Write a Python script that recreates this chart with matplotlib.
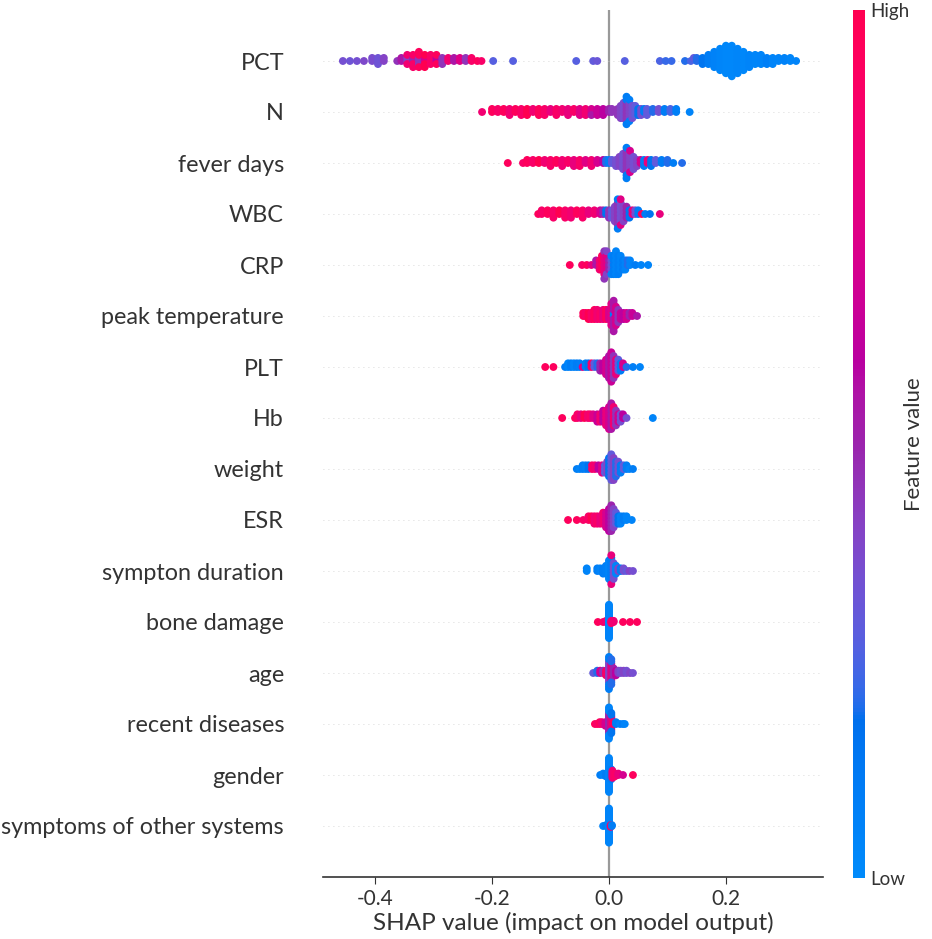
import numpy as np
import matplotlib
matplotlib.use("Agg")
import matplotlib.pyplot as plt
from matplotlib.colors import LinearSegmentedColormap
from matplotlib.cm import ScalarMappable

plt.rcParams["font.family"] = ["Lato", "DejaVu Sans"]
plt.rcParams["axes.unicode_minus"] = False

# features, top to bottom
features = ["PCT", "N", "fever days", "WBC", "CRP", "peak temperature", "PLT", "Hb",
            "weight", "ESR", "sympton duration", "bone damage", "age",
            "recent diseases", "gender", "symptoms of other systems"]

# each entry: (SHAP value, number of samples, feature value 0..1)
pct = [(-0.455, 1, 0.35), (-0.443, 1, 0.33), (-0.431, 1, 0.35), (-0.419, 1, 0.38),
       (-0.405, 2, 0.36), (-0.395, 3, 0.33), (-0.385, 2, 0.4),
       (-0.362, 1, 0.45), (-0.355, 2, 0.55), (-0.345, 2, 0.4), (-0.345, 2, 0.85),
       (-0.335, 2, 0.5), (-0.335, 3, 0.9), (-0.325, 3, 0.45), (-0.325, 3, 0.95),
       (-0.315, 2, 0.7), (-0.315, 3, 1.0), (-0.305, 4, 0.9), (-0.295, 2, 0.6),
       (-0.295, 2, 0.95), (-0.285, 3, 0.45), (-0.275, 2, 0.85), (-0.265, 2, 0.55),
       (-0.255, 2, 0.75), (-0.245, 2, 0.45), (-0.235, 2, 0.9), (-0.225, 1, 0.95),
       (-0.218, 1, 0.9),
       (-0.198, 1, 0.27), (-0.164, 1, 0.27), (-0.056, 1, 0.27), (-0.027, 1, 0.3),
       (-0.02, 1, 0.32), (0.027, 1, 0.27),
       (0.087, 1, 0.25), (0.097, 1, 0.22), (0.107, 1, 0.22),
       (0.13, 1, 0.2), (0.14, 1, 0.25), (0.145, 1, 0.3), (0.15, 2, 0.2), (0.16, 3, 0.15),
       (0.17, 4, 0.1), (0.18, 6, 0.06), (0.19, 8, 0.04), (0.20, 10, 0.03), (0.21, 11, 0.03),
       (0.22, 9, 0.04), (0.23, 7, 0.03), (0.24, 5, 0.05), (0.25, 4, 0.04), (0.26, 4, 0.05),
       (0.27, 3, 0.08), (0.28, 3, 0.05), (0.29, 2, 0.05), (0.30, 2, 0.06), (0.31, 2, 0.04),
       (0.32, 1, 0.05)]

neut = [(-0.217, 1, 0.85), (-0.20, 2, 0.95), (-0.19, 2, 0.9), (-0.18, 2, 0.95), (-0.17, 3, 0.85),
        (-0.16, 2, 0.95), (-0.15, 3, 0.9), (-0.14, 3, 1.0), (-0.13, 2, 0.85), (-0.12, 3, 0.95),
        (-0.11, 3, 0.9), (-0.10, 2, 0.8), (-0.09, 3, 0.9), (-0.08, 2, 0.85), (-0.07, 3, 0.8),
        (-0.06, 2, 0.9), (-0.05, 3, 0.75), (-0.04, 3, 0.85), (-0.03, 2, 0.7), (-0.03, 1, 0.55),
        (-0.02, 3, 0.65), (-0.01, 3, 0.6), (0.0, 2, 0.5), (0.005, 2, 0.45),
        (0.015, 3, 0.45), (0.02, 5, 0.4), (0.025, 6, 0.35), (0.03, 7, 0.45), (0.03, 3, 0.1),
        (0.035, 6, 0.4), (0.035, 2, 0.08), (0.04, 5, 0.35), (0.045, 4, 0.3), (0.05, 3, 0.15),
        (0.055, 3, 0.35), (0.06, 2, 0.1), (0.065, 3, 0.3), (0.075, 2, 0.2), (0.085, 2, 0.35),
        (0.095, 2, 0.1), (0.105, 2, 0.25), (0.115, 2, 0.08), (0.138, 1, 0.05)]

fever = [(-0.173, 1, 0.95), (-0.147, 1, 0.9), (-0.14, 2, 0.95), (-0.13, 2, 0.9), (-0.12, 2, 1.0),
         (-0.11, 2, 0.85), (-0.10, 3, 0.9), (-0.09, 2, 0.95), (-0.08, 3, 0.85), (-0.07, 2, 0.9),
         (-0.06, 3, 0.8), (-0.05, 3, 0.9), (-0.04, 2, 0.75), (-0.03, 3, 0.85), (-0.02, 2, 0.7),
         (-0.01, 2, 0.6), (-0.005, 2, 0.2), (0.0, 2, 0.08), (0.005, 2, 0.3),
         (0.012, 3, 0.35), (0.018, 4, 0.4), (0.024, 6, 0.35), (0.03, 8, 0.45), (0.03, 3, 0.1),
         (0.036, 6, 0.4), (0.036, 2, 0.7), (0.042, 5, 0.35), (0.048, 3, 0.4), (0.054, 2, 0.7),
         (0.06, 3, 0.1), (0.066, 2, 0.8), (0.072, 3, 0.15), (0.08, 2, 0.3), (0.09, 2, 0.1),
         (0.10, 2, 0.2), (0.11, 1, 0.1), (0.125, 1, 0.2)]

wbc = [(-0.121, 1, 0.95), (-0.115, 2, 0.9), (-0.105, 2, 0.95), (-0.095, 3, 0.9), (-0.085, 2, 1.0),
       (-0.075, 3, 0.9), (-0.065, 3, 0.85), (-0.055, 2, 0.95), (-0.045, 3, 0.9), (-0.035, 2, 0.8),
       (-0.025, 2, 0.85), (-0.015, 2, 0.7), (-0.01, 2, 0.5), (-0.005, 2, 0.15), (0.0, 3, 0.45),
       (0.005, 3, 0.3), (0.01, 5, 0.4), (0.015, 7, 0.45), (0.015, 2, 0.1), (0.02, 6, 0.35),
       (0.02, 2, 0.75), (0.025, 5, 0.4), (0.03, 4, 0.5), (0.035, 3, 0.15), (0.04, 2, 0.8),
       (0.045, 2, 0.35), (0.05, 2, 0.1), (0.056, 1, 0.95), (0.062, 1, 0.1), (0.07, 1, 0.15),
       (0.087, 1, 0.8)]

crp = [(-0.067, 1, 0.95), (-0.046, 1, 0.9), (-0.038, 1, 0.95), (-0.03, 1, 0.8), (-0.022, 2, 0.55),
       (-0.016, 3, 0.85), (-0.012, 4, 0.95), (-0.008, 5, 0.8), (-0.008, 2, 0.45), (-0.004, 4, 0.75),
       (-0.004, 2, 0.4), (0.0, 3, 0.5), (0.004, 3, 0.35), (0.004, 2, 0.05), (0.008, 5, 0.1),
       (0.012, 6, 0.05), (0.016, 5, 0.08), (0.02, 4, 0.05), (0.024, 3, 0.1), (0.028, 3, 0.05),
       (0.032, 2, 0.2), (0.036, 2, 0.05), (0.045, 1, 0.1), (0.055, 1, 0.05), (0.067, 1, 0.05)]

peak = [(-0.044, 2, 0.95), (-0.04, 2, 0.9), (-0.035, 3, 1.0), (-0.03, 3, 0.9), (-0.025, 4, 0.95),
        (-0.02, 4, 0.85), (-0.015, 3, 0.9), (-0.01, 4, 0.8), (-0.005, 4, 0.95), (0.0, 4, 0.7),
        (0.004, 8, 0.75), (0.008, 2, 0.1), (0.008, 9, 0.55), (0.012, 7, 0.7), (0.016, 5, 0.45),
        (0.02, 3, 0.65), (0.025, 3, 0.6), (0.03, 3, 0.7), (0.035, 2, 0.5), (0.04, 2, 0.65),
        (0.048, 1, 0.55)]

plt_vals = [(-0.109, 1, 0.95), (-0.095, 1, 0.95), (-0.075, 1, 0.1), (-0.07, 2, 0.05), (-0.065, 2, 0.1),
            (-0.06, 2, 0.05), (-0.055, 2, 0.1), (-0.05, 2, 0.08), (-0.045, 1, 0.75), (-0.04, 2, 0.1),
            (-0.035, 2, 0.15), (-0.03, 2, 0.9), (-0.025, 2, 0.3), (-0.02, 2, 0.2), (-0.015, 3, 0.5),
            (-0.01, 3, 0.6), (-0.005, 5, 0.7), (0.0, 7, 0.55), (0.004, 9, 0.65), (0.008, 7, 0.45),
            (0.012, 5, 0.8), (0.016, 4, 0.3), (0.02, 3, 0.1), (0.024, 2, 0.7), (0.03, 1, 0.2),
            (0.041, 1, 0.08), (0.053, 1, 0.05)]

hb = [(-0.08, 1, 0.95), (-0.058, 1, 0.95), (-0.054, 2, 0.9), (-0.048, 2, 0.8), (-0.042, 2, 1.0),
      (-0.036, 2, 0.85), (-0.032, 2, 0.9), (-0.027, 2, 0.75), (-0.02, 3, 0.65), (-0.015, 3, 0.85),
      (-0.01, 4, 0.6), (-0.005, 5, 0.8), (0.0, 7, 0.7), (0.004, 8, 0.55), (0.008, 6, 0.85),
      (0.012, 5, 0.45), (0.016, 3, 0.7), (0.02, 3, 0.35), (0.024, 2, 0.6), (0.03, 1, 0.35),
      (0.075, 1, 0.05)]

weight = [(-0.055, 1, 0.1), (-0.05, 1, 0.05), (-0.045, 2, 0.1), (-0.04, 2, 0.08), (-0.035, 2, 0.15),
          (-0.029, 2, 0.9), (-0.024, 2, 0.85), (-0.018, 2, 0.6), (-0.012, 3, 0.75), (-0.007, 3, 0.3),
          (-0.003, 4, 0.4), (0.0, 6, 0.15), (0.004, 8, 0.3), (0.008, 7, 0.4), (0.012, 5, 0.2),
          (0.016, 4, 0.35), (0.02, 3, 0.1), (0.025, 2, 0.3), (0.03, 2, 0.1), (0.035, 1, 0.05),
          (0.041, 1, 0.1)]

esr = [(-0.07, 1, 0.95), (-0.055, 1, 0.95), (-0.044, 1, 0.9), (-0.035, 2, 0.9), (-0.03, 2, 1.0),
       (-0.025, 3, 0.85), (-0.02, 3, 0.9), (-0.015, 3, 0.8), (-0.01, 4, 0.85), (-0.005, 5, 0.7),
       (0.0, 7, 0.6), (0.004, 8, 0.5), (0.008, 6, 0.4), (0.012, 4, 0.3), (0.016, 3, 0.15),
       (0.02, 3, 0.05), (0.025, 2, 0.1), (0.03, 2, 0.05), (0.039, 1, 0.05)]

sym_dur = [(-0.038, 2, 0.05), (-0.02, 2, 0.08), (-0.015, 2, 0.05), (-0.01, 3, 0.1), (-0.005, 4, 0.08),
           (0.0, 8, 0.05), (0.004, 10, 0.1), (0.004, 2, 0.8), (0.008, 7, 0.35), (0.012, 4, 0.05),
           (0.016, 2, 0.4), (0.02, 2, 0.1), (0.025, 2, 0.35), (0.03, 1, 0.3), (0.035, 1, 0.4),
           (0.041, 1, 0.35)]

bone = [(-0.019, 1, 0.95), (-0.01, 1, 0.9), (-0.005, 2, 0.85), (0.0, 30, 0.05), (0.004, 3, 0.9),
        (0.008, 2, 0.85), (0.024, 1, 0.95), (0.036, 1, 0.95), (0.048, 1, 0.95)]

age = [(-0.027, 1, 0.3), (-0.02, 2, 0.2), (-0.015, 2, 0.7), (-0.01, 2, 0.45), (-0.005, 3, 0.9),
       (0.0, 10, 0.4), (0.0, 5, 0.1), (0.004, 8, 0.75), (0.004, 4, 0.2), (0.008, 4, 0.5),
       (0.012, 3, 0.6), (0.016, 2, 0.4), (0.02, 2, 0.35), (0.025, 2, 0.4), (0.03, 2, 0.35),
       (0.036, 1, 0.4), (0.041, 1, 0.35)]

recent = [(-0.024, 1, 0.95), (-0.02, 1, 0.9), (-0.016, 2, 0.95), (-0.012, 2, 0.85), (-0.006, 3, 0.7),
          (0.0, 12, 0.5), (0.0, 6, 0.05), (0.004, 8, 0.75), (0.004, 4, 0.15), (0.007, 2, 0.95),
          (0.012, 2, 0.1), (0.019, 1, 0.05), (0.024, 1, 0.1), (0.027, 1, 0.05)]

gender = [(-0.015, 1, 0.1), (-0.01, 2, 0.05), (-0.005, 3, 0.1), (0.0, 25, 0.05), (0.004, 8, 0.1),
          (0.006, 6, 0.85), (0.01, 3, 0.9), (0.016, 2, 0.8), (0.024, 1, 0.7), (0.041, 1, 0.95)]

other = [(-0.01, 1, 0.05), (-0.005, 2, 0.1), (0.0, 40, 0.05), (0.003, 3, 0.9), (0.005, 2, 0.1)]

groups = [pct, neut, fever, wbc, crp, peak, plt_vals, hb, weight, esr, sym_dur, bone, age,
          recent, gender, other]


# shap-style red/blue colormap, built in LCH space
def lch_to_rgb(l, c, h):
    a = c * np.cos(h)
    b = c * np.sin(h)
    fy = (l + 16) / 116
    fx = fy + a / 500
    fz = fy - b / 200

    def finv(t):
        return t ** 3 if t > 6 / 29 else 3 * (6 / 29) ** 2 * (t - 4 / 29)

    xyz = np.array([0.95047 * finv(fx), finv(fy), 1.08883 * finv(fz)])
    m = np.array([[3.2406, -1.5372, -0.4986],
                  [-0.9689, 1.8758, 0.0415],
                  [0.0557, -0.2040, 1.0570]])
    rgb = m @ xyz
    rgb = np.where(rgb > 0.0031308, 1.055 * np.abs(rgb) ** (1 / 2.4) - 0.055, 12.92 * rgb)
    return np.clip(rgb, 0, 1)


nsteps = 100
l_vals = list(np.linspace(54, 40, nsteps // 2)) + list(np.linspace(40, 54, nsteps // 2))
c_vals = np.linspace(70, 90, nsteps)
h_vals = np.linspace(4.6588, 0.35470565 + 2 * np.pi, nsteps)
cols = [lch_to_rgb(l, c, h) for l, c, h in zip(l_vals, c_vals, h_vals)]
cmap = LinearSegmentedColormap.from_list("red_blue", cols)


def swarm_offsets(x, row_height=0.4, nbins=100):
    quant = np.round(nbins * (x - x.min()) / (x.max() - x.min() + 1e-8))
    order = np.argsort(quant, kind="stable")
    ys = np.zeros(len(x))
    layer = 0
    last = -1
    for i in order:
        if quant[i] != last:
            layer = 0
        ys[i] = np.ceil(layer / 2) * ((layer % 2) * 2 - 1)
        layer += 1
        last = quant[i]
    ys *= 0.9 * (row_height / np.max(ys + 1))
    return ys


fig = plt.figure(figsize=(9.32, 9.39), dpi=100)
ax = fig.add_axes([323 / 932, 1 - 877 / 939, 500 / 932, 867 / 939])

n_feat = len(features)
ax.axvline(0, color="#999999", lw=1.6, zorder=-1)
for k, (name, g) in enumerate(zip(features, groups)):
    pos = n_feat - 1 - k
    ax.axhline(pos, color="#cccccc", lw=0.6, dashes=(1, 5), zorder=-1)
    x = np.repeat([v[0] for v in g], [v[1] for v in g])
    c = np.repeat([v[2] for v in g], [v[1] for v in g])
    ys = swarm_offsets(x)
    ax.scatter(x, pos + ys, c=c, cmap=cmap, vmin=0, vmax=1, s=32, linewidths=0, zorder=3)

ax.set_xlim(-0.489, 0.366)
ax.set_ylim(-1, n_feat)
ax.set_yticks(range(n_feat))
ax.set_yticklabels(features[::-1], fontsize=16.8, color="#333333")
ax.tick_params(axis="y", length=0, pad=28)
ax.set_xticks([-0.4, -0.2, 0.0, 0.2])
ax.set_xticklabels(["-0.4", "-0.2", "0.0", "0.2"])
ax.tick_params(axis="x", labelsize=15, labelcolor="#333333", color="#333333", length=5)
for s in ["top", "right", "left"]:
    ax.spines[s].set_visible(False)
ax.spines["bottom"].set_color("#333333")
ax.spines["bottom"].set_linewidth(1.2)
ax.set_xlabel("SHAP value (impact on model output)", fontsize=17.5, color="#333333", labelpad=2)

cax = fig.add_axes([853 / 932, 1 - 878 / 939, 12 / 932, 868 / 939])
sm = ScalarMappable(cmap=cmap)
sm.set_array([0, 1])
cb = fig.colorbar(sm, cax=cax, ticks=[0, 1])
cb.set_ticklabels(["Low", "High"])
cb.ax.tick_params(labelsize=13.5, length=0, labelcolor="#333333")
cb.set_label("Feature value", size=16, labelpad=-4, color="#333333")
cb.outline.set_visible(False)

fig.savefig("out.png", dpi=100)
